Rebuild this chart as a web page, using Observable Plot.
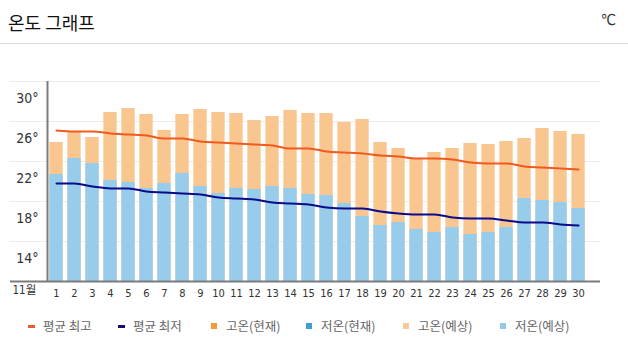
<!DOCTYPE html>
<html>
<head>
<meta charset="utf-8">
<script src="https://cdn.jsdelivr.net/npm/d3@7"></script>
<script src="https://cdn.jsdelivr.net/npm/@observablehq/plot@0.6"></script>
<style>
  body { margin: 0; background: #fff; }
  #wrap { position: relative; width: 628px; height: 354px; overflow: hidden; font-family: "Noto Sans CJK KR", "Noto Sans", sans-serif; }
  #title { position: absolute; left: 8px; top: 0; height: 43px; display: flex; align-items: center; font-size: 18px; color: #111; }
  #unit { position: absolute; right: 12px; top: 0; height: 40px; display: flex; align-items: center; font-size: 15px; color: #333; font-family: "Liberation Sans Narrow", "DejaVu Sans Condensed", sans-serif; }
  #sep { position: absolute; left: 0; top: 43px; width: 628px; height: 1px; background: #dcdcdc; }
  #chart { position: absolute; left: 0; top: 44px; }
  #legend { position: absolute; left: 0; top: 316px; width: 628px; height: 20px; }
  .item { position: absolute; top: 0; height: 20px; line-height: 20px; font-size: 12.5px; color: #666; white-space: nowrap; }
  .mk { position: absolute; }
</style>
</head>
<body>
<div id="wrap">
  <div id="title">온도 그래프</div>
  <div id="unit">℃</div>
  <div id="sep"></div>
  <div id="chart"></div>
  <div id="legend"></div>
</div>
<script>
const days = [1,2,3,4,5,6,7,8,9,10,11,12,13,14,15,16,17,18,19,20,21,22,23,24,25,26,27,28,29,30];
const highForecast = [25.9,26.9,26.4,28.9,29.3,28.7,27.1,28.7,29.2,28.9,28.8,28.1,28.5,29.1,28.8,28.8,27.9,28.2,25.9,25.3,24.3,24.9,25.3,25.8,25.7,26.0,26.3,27.3,27.0,26.7];
const lowForecast = [22.7,24.3,23.8,22.1,21.9,21.3,21.8,22.8,21.5,20.8,21.3,21.2,21.5,21.3,20.7,20.6,19.8,18.5,17.6,17.9,17.2,16.9,17.4,16.7,16.9,17.4,20.3,20.1,19.9,19.3];
const avgHigh = [27.1,27.0,27.0,26.8,26.7,26.6,26.3,26.3,26.0,25.9,25.8,25.7,25.6,25.3,25.3,25.0,24.9,24.8,24.6,24.5,24.3,24.3,24.2,23.9,23.8,23.8,23.5,23.4,23.3,23.2];
const avgLow = [21.8,21.8,21.5,21.3,21.3,21.0,20.9,20.8,20.7,20.4,20.3,20.2,19.9,19.8,19.7,19.4,19.3,19.3,19.0,18.8,18.7,18.7,18.4,18.3,18.3,18.1,17.9,17.9,17.7,17.6];
const yTickLabels = [14,18,22,26,30];
const yGrid = [16,20,24,28,32];
const yDomain = [12,32];
const xDomain = [0.5, 31.22];
const monthLabel = "11월";
const legendItems = [
  {label: "평균 최고", color: "#EC5B2B", kind: "dash", left: 28},
  {label: "평균 최저", color: "#1B0C72", kind: "dash", left: 118},
  {label: "고온(현재)", color: "#F79A3C", kind: "square", left: 211},
  {label: "저온(현재)", color: "#3A9FDA", kind: "square", left: 306},
  {label: "고온(예상)", color: "#F9C696", kind: "square", left: 403},
  {label: "저온(예상)", color: "#93CAEA", kind: "square", left: 500}
];

const data = days.map((d, i) => ({day: d, high: highForecast[i], low: lowForecast[i], avgHigh: avgHigh[i], avgLow: avgLow[i]}));

const narrow = '"Liberation Sans Narrow", "DejaVu Sans Condensed", "Noto Sans CJK KR", sans-serif';

const chart = Plot.plot({
  width: 628,
  height: 266,
  marginTop: 37,
  marginBottom: 29,
  marginLeft: 47,
  marginRight: 28,
  x: {type: "linear", domain: xDomain, axis: null},
  y: {domain: yDomain, axis: null},
  style: {fontFamily: narrow, background: "transparent", color: "#333"},
  marks: [
    Plot.ruleY(yGrid, {stroke: "#ececec", strokeWidth: 1, insetLeft: -37}),
    Plot.rectY(data, {x1: d => d.day - 0.5, x2: d => d.day + 0.5, y1: yDomain[0], y2: "high", fill: "#F9C68F", insetLeft: 2.35, insetRight: 2.35}),
    Plot.rectY(data, {x1: d => d.day - 0.5, x2: d => d.day + 0.5, y1: yDomain[0], y2: "low", fill: "#97CCEA", insetLeft: 2.35, insetRight: 2.35}),
    Plot.line(data, {x: "day", y: "avgHigh", stroke: "#F15A1E", strokeWidth: 2, curve: "monotone-x"}),
    Plot.line(data, {x: "day", y: "avgLow", stroke: "#0A0A8C", strokeWidth: 2, curve: "monotone-x"}),
    Plot.ruleY([yDomain[0]], {stroke: "#7b7b7b", strokeWidth: 2, insetLeft: -37}),
    Plot.ruleX([xDomain[0]], {stroke: "#7b7b7b", strokeWidth: 2}),
    Plot.axisY(yTickLabels, {tickSize: 0, tickPadding: 9, dy: -3, tickFormat: d => d + "°", fontSize: 14, fill: "#333", label: null}),
    Plot.axisX(days, {tickSize: 0, tickPadding: 8, tickFormat: d => String(d), fontSize: 11, fill: "#333", label: null}),
    Plot.text([monthLabel], {frameAnchor: "bottom-left", dx: -35, dy: 12, textAnchor: "start", fontSize: 11.5, fill: "#333"})
  ]
});
document.getElementById("chart").appendChild(chart);

const legend = document.getElementById("legend");
for (const it of legendItems) {
  const el = document.createElement("div");
  el.className = "item";
  el.style.left = it.left + "px";
  const mk = document.createElement("span");
  mk.className = "mk";
  mk.style.background = it.color;
  if (it.kind === "dash") {
    mk.style.width = "7px"; mk.style.height = "3px"; mk.style.left = "0px"; mk.style.top = "9px";
  } else {
    mk.style.width = "6px"; mk.style.height = "6px"; mk.style.left = "0px"; mk.style.top = "7px";
  }
  el.appendChild(mk);
  const tx = document.createElement("span");
  tx.textContent = it.label;
  tx.style.marginLeft = "15px";
  el.appendChild(tx);
  legend.appendChild(el);
}
</script>
</body>
</html>
